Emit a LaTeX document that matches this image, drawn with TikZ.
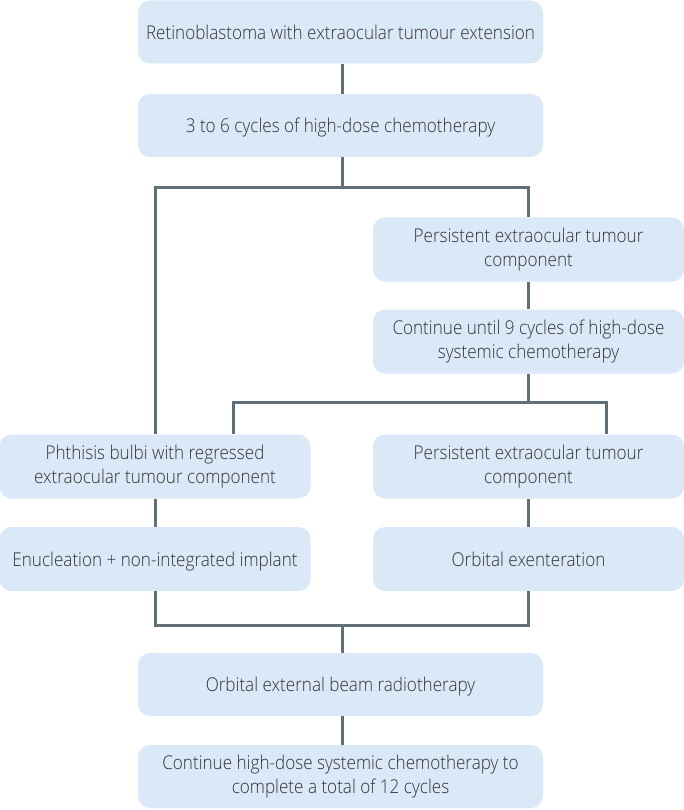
\documentclass[tikz,border=0pt]{standalone}
\usepackage{fontspec}
\setmainfont{Open Sans}[FakeStretch=0.9, UprightFont=* Light]
\definecolor{boxfill}{HTML}{DAE8F8}
\definecolor{linecol}{HTML}{5F7078}
\definecolor{txt}{HTML}{333333}
\begin{document}
\begin{tikzpicture}[x=1pt,y=-1pt,
  box/.style={fill=boxfill,rounded corners=12pt,text=txt,align=center,
    font=\fontsize{19}{24}\selectfont,inner sep=0pt,
    execute at begin node={\rule{0pt}{19.5pt}},
    execute at end node={\rule[-4.5pt]{0pt}{4.5pt}}},
  wide/.style={box,minimum width=405pt,minimum height=63pt},
  side/.style={box,minimum width=311pt,minimum height=64pt},
  conn/.style={draw=linecol,line width=3pt}]
\useasboundingbox (0,0) rectangle (684,810);
\node[wide] (a) at (340.5,32) {Retinoblastoma with extraocular tumour extension};
\node[wide] (b) at (340.5,125.5) {3 to 6 cycles of high-dose chemotherapy};
\node[side] (c) at (528.5,249.5) {Persistent extraocular tumour\\component};
\node[side] (d) at (528.5,341.5) {Continue until 9 cycles of high-dose\\systemic chemotherapy};
\node[side] (e) at (155,466.5) {Phthisis bulbi with regressed\\extraocular tumour component};
\node[side] (f) at (528.5,466.5) {Persistent extraocular tumour\\component};
\node[side] (g) at (155,559) {Enucleation + non-integrated implant};
\node[side] (h) at (528.5,559) {Orbital exenteration};
\node[wide] (i) at (340.5,684.5) {Orbital external beam radiotherapy};
\node[wide] (j) at (340.5,776.5) {Continue high-dose systemic chemotherapy to\\complete a total of 12 cycles};
\coordinate (s1) at (342,188);
\coordinate (s2) at (528,402);
\coordinate (s3) at (342,625);
\draw[conn] (a.south -| s1) -- (b.north -| s1);
\draw[conn] (b.south -| s1) -- (s1);
\draw[conn] (e.north) |- (s1) -| (c.north);
\draw[conn] (c) -- (d);
\draw[conn] (d.south -| s2) -- (s2);
\draw[conn] ([xshift=78pt]e.north) |- (s2) -| (f.north -| 606,0);
\draw[conn] (e) -- (g);
\draw[conn] (f) -- (h);
\draw[conn] (g.south) |- (s3) -| (h.south);
\draw[conn] (s3) -- (i.north -| s3);
\draw[conn] (i.south -| s3) -- (j.north -| s3);
\end{tikzpicture}
\end{document}
